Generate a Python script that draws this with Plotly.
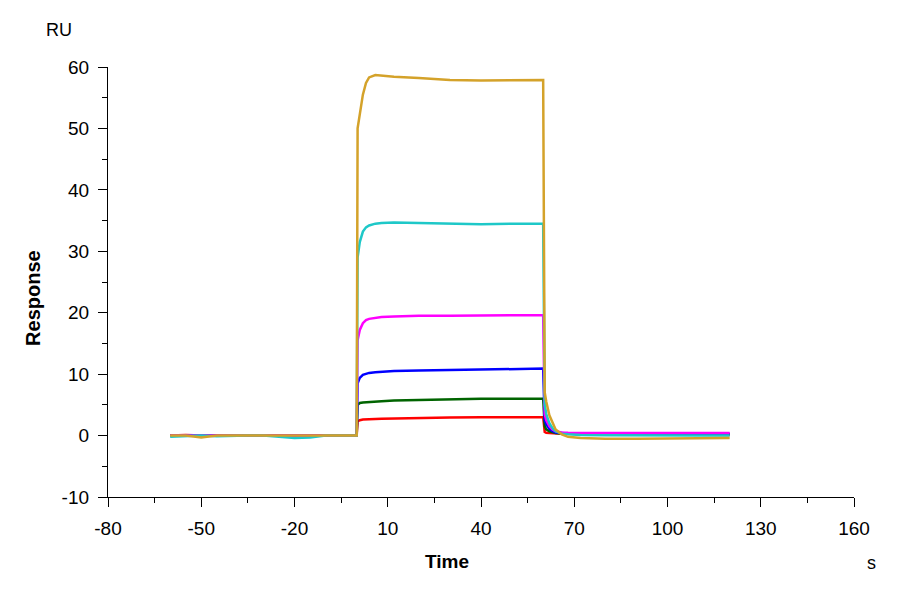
import plotly.graph_objects as go

# shared time base (s)
time_s = [-60, -55, -50, -45, -40, -35, -30, -25, -20, -15, -10, -5, -0.5,
          0, 0.3, 1, 2, 3, 4, 6, 8, 12, 20, 30, 40, 50, 59.7,
          60, 60.5, 61, 62, 63, 64, 66, 68, 72, 80, 90, 100, 110, 120]

# response curves (RU), lowest to highest concentration
resp_red = [0.0, 0.1, 0.0, 0.0, 0.0, 0.0, 0.0, 0.0, 0.0, 0.0, 0.0, 0.0, 0.0,
            0.0, 2.3, 2.5, 2.6, 2.6, 2.7, 2.7, 2.75, 2.8, 2.9, 2.95, 3.0, 3.0, 3.0,
            3.0, 0.6, 0.45, 0.4, 0.35, 0.3, 0.3, 0.3, 0.25, 0.2, 0.2, 0.15, 0.1, 0.1]
resp_green = [0.0, 0.0, 0.1, 0.0, 0.0, 0.0, 0.0, 0.0, 0.0, 0.0, 0.0, 0.0, 0.0,
              0.0, 5.0, 5.3, 5.4, 5.45, 5.5, 5.55, 5.6, 5.7, 5.8, 5.9, 6.0, 6.0, 6.0,
              6.0, 1.5, 1.0, 0.7, 0.5, 0.4, 0.35, 0.3, 0.3, 0.25, 0.2, 0.2, 0.2, 0.2]
resp_blue = [0.0, 0.0, 0.0, 0.1, 0.0, 0.0, 0.0, 0.0, 0.0, 0.0, 0.0, 0.0, 0.0,
             0.0, 8.5, 9.4, 9.9, 10.1, 10.2, 10.3, 10.4, 10.5, 10.6, 10.7, 10.8, 10.9, 10.9,
             10.9, 2.5, 1.8, 1.1, 0.7, 0.5, 0.4, 0.35, 0.3, 0.3, 0.3, 0.3, 0.3, 0.3]
resp_magenta = [0.0, 0.0, 0.1, 0.0, 0.0, 0.0, 0.0, 0.0, 0.0, 0.0, 0.0, 0.0, 0.0,
                0.0, 15.5, 17.2, 18.3, 18.8, 19.0, 19.2, 19.3, 19.4, 19.5, 19.5, 19.6, 19.6, 19.6,
                19.6, 3.5, 2.5, 1.5, 1.0, 0.7, 0.5, 0.45, 0.4, 0.4, 0.4, 0.4, 0.4, 0.4]
resp_cyan = [-0.2, -0.1, 0.0, -0.1, 0.0, 0.0, 0.0, -0.2, -0.4, -0.3, 0.0, 0.0, 0.0,
             0.0, 29.0, 31.5, 33.2, 33.9, 34.2, 34.5, 34.6, 34.7, 34.6, 34.5, 34.4, 34.5, 34.5,
             34.5, 5.0, 3.5, 2.0, 1.2, 0.7, 0.3, 0.2, 0.1, 0.05, 0.0, 0.0, 0.0, 0.0]
resp_gold = [0.0, 0.0, -0.3, 0.0, 0.0, 0.0, 0.0, 0.0, 0.0, 0.0, 0.0, 0.0, 0.0,
             0.0, 50.0, 52.5, 55.5, 57.4, 58.3, 58.7, 58.6, 58.4, 58.2, 57.9, 57.8, 57.9, 57.9,
             57.9, 7.0, 5.5, 3.3, 2.0, 1.0, 0.2, -0.2, -0.4, -0.5, -0.5, -0.5, -0.45, -0.4]

x_ticks = [-80, -50, -20, 10, 40, 70, 100, 130, 160]
y_ticks = [-10, 0, 10, 20, 30, 40, 50, 60]

series = [
    (resp_red, "#ff0000"),
    (resp_green, "#006400"),
    (resp_blue, "#0000ff"),
    (resp_magenta, "#ff00ff"),
    (resp_cyan, "#1ec8c8"),
    (resp_gold, "#d4a22a"),
]

fig = go.Figure()
for vals, col in series:
    fig.add_trace(go.Scatter(
        x=time_s, y=vals, mode="lines",
        line=dict(color=col, width=2.5),
        hoverinfo="x+y",
    ))

font = "Liberation Sans, Arial, sans-serif"
axis_common = dict(
    showgrid=False, zeroline=False, showline=True,
    linecolor="black", linewidth=1.3,
    ticks="outside", ticklen=9, tickwidth=1.3, tickcolor="black",
    ticklabelstandoff=5,
    tickfont=dict(family=font, size=19, color="black"),
)


def label(text, x, y, size, angle=0):
    return dict(text=text, x=x, y=y, xref="paper", yref="paper", showarrow=False,
                xanchor="center", yanchor="middle", textangle=angle,
                font=dict(family=font, size=size, color="black"))


fig.update_layout(
    width=900, height=600,
    showlegend=False,
    plot_bgcolor="white", paper_bgcolor="white",
    margin=dict(l=100, r=54, t=59, b=111),
    xaxis=dict(range=[-80, 160], tickvals=x_ticks, ticktext=[str(v) for v in x_ticks],
               minor=dict(ticks="outside", ticklen=5, tickwidth=1, tickcolor="black", dtick=15,
                          tick0=-80, showgrid=False),
               **axis_common),
    yaxis=dict(range=[-10, 60], tickvals=y_ticks, ticktext=[str(v) for v in y_ticks],
               minor=dict(ticks="outside", ticklen=5, tickwidth=1, tickcolor="black", dtick=5,
                          showgrid=False),
               **axis_common),
    annotations=[
        label("RU", -0.0657, 1.086, 18),
        label("<b>Time</b>", 0.455, -0.151, 19),
        label("s", 1.024, -0.153, 18),
        label("<b>Response</b>", -0.1005, 0.463, 20, angle=-90),
    ],
)

fig.write_html("out.html")
